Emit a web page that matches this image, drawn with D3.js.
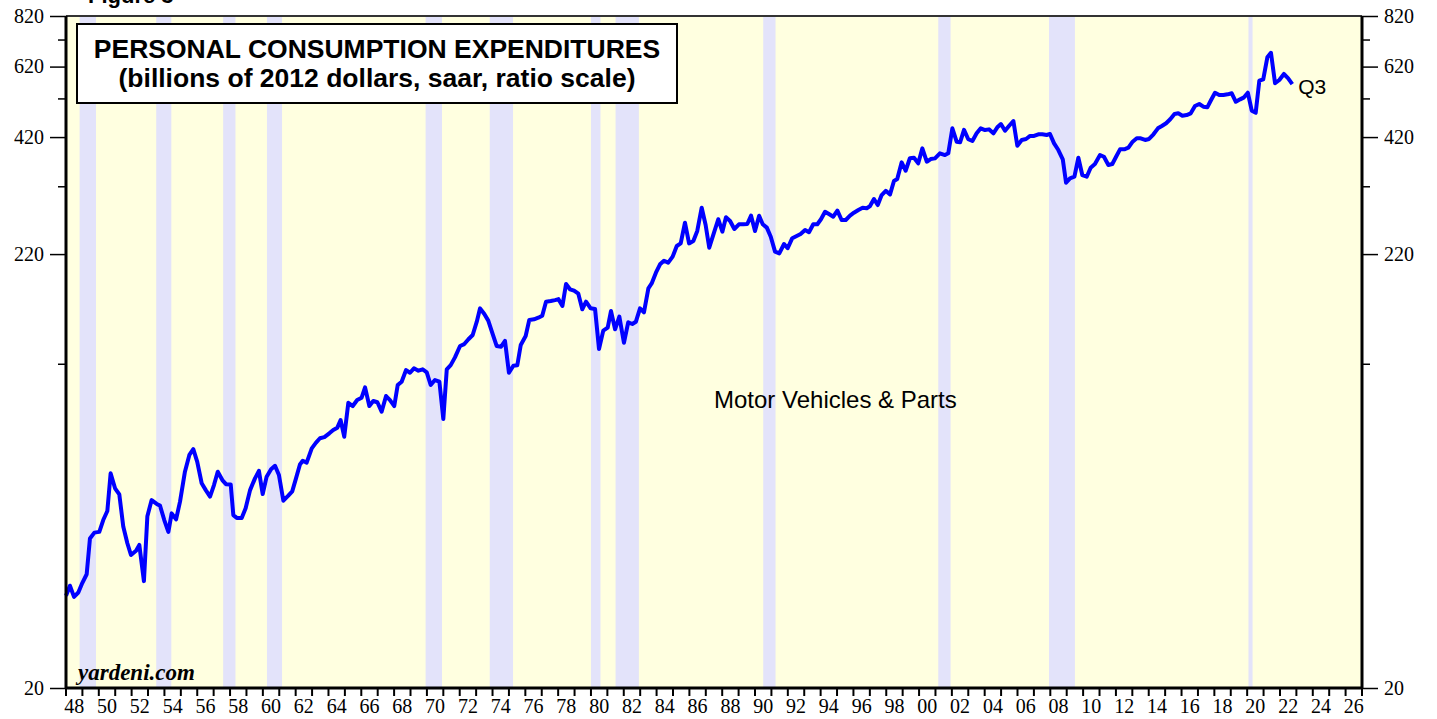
<!DOCTYPE html>
<html>
<head>
<meta charset="utf-8">
<script src="https://cdn.jsdelivr.net/npm/d3@7/dist/d3.min.js"></script>
<style>
  body { margin: 0; background: #fff; }
  svg { display: block; }
</style>
</head>
<body>
<div id="chart"></div>
<script>
// decimal years of each plotted quarter
const dates = [
  1948.00, 1948.24, 1948.49, 1948.75, 1948.96, 1949.26, 1949.46, 1949.73, 1950.03, 1950.27,
  1950.52, 1950.72, 1950.99, 1951.25, 1951.49, 1951.74, 1951.96, 1952.27, 1952.47, 1952.75,
  1952.96, 1953.22, 1953.53, 1953.73, 1953.99, 1954.24, 1954.44, 1954.71, 1954.95, 1955.25,
  1955.52, 1955.76, 1956.00, 1956.27, 1956.52, 1956.78, 1957.02, 1957.25, 1957.53, 1957.75,
  1958.04, 1958.20, 1958.41, 1958.71, 1958.95, 1959.22, 1959.52, 1959.76, 1959.99, 1960.23,
  1960.50, 1960.74, 1960.98, 1961.25, 1961.55, 1961.79, 1962.02, 1962.26, 1962.43, 1962.67,
  1962.98, 1963.24, 1963.48, 1963.75, 1964.05, 1964.29, 1964.54, 1964.74, 1964.96, 1965.21,
  1965.48, 1965.75, 1966.02, 1966.23, 1966.49, 1966.73, 1966.98, 1967.24, 1967.51, 1967.75,
  1968.01, 1968.22, 1968.46, 1968.73, 1968.97, 1969.21, 1969.48, 1969.74, 1969.99, 1970.23,
  1970.49, 1970.76, 1971.00, 1971.21, 1971.45, 1971.71, 1972.02, 1972.28, 1972.53, 1972.79,
  1973.04, 1973.24, 1973.50, 1973.74, 1973.98, 1974.25, 1974.52, 1974.76, 1975.00, 1975.27,
  1975.51, 1975.72, 1976.02, 1976.24, 1976.53, 1976.79, 1977.03, 1977.26, 1977.55, 1977.81,
  1978.02, 1978.26, 1978.48, 1978.72, 1978.97, 1979.23, 1979.47, 1979.70, 1979.98, 1980.25,
  1980.49, 1980.75, 1981.02, 1981.22, 1981.47, 1981.73, 1982.01, 1982.27, 1982.52, 1982.74,
  1982.99, 1983.23, 1983.50, 1983.70, 1983.96, 1984.21, 1984.45, 1984.71, 1984.98, 1985.23,
  1985.47, 1985.73, 1985.98, 1986.24, 1986.48, 1986.75, 1986.99, 1987.21, 1987.50, 1987.76,
  1988.01, 1988.23, 1988.48, 1988.74, 1989.02, 1989.29, 1989.53, 1989.76, 1990.00, 1990.25,
  1990.47, 1990.72, 1990.96, 1991.22, 1991.48, 1991.77, 1991.99, 1992.27, 1992.54, 1992.78,
  1993.05, 1993.29, 1993.55, 1993.80, 1994.02, 1994.27, 1994.53, 1994.77, 1995.02, 1995.28,
  1995.53, 1995.79, 1996.03, 1996.30, 1996.56, 1996.81, 1997.01, 1997.25, 1997.48, 1997.72,
  1997.97, 1998.23, 1998.47, 1998.67, 1998.94, 1999.18, 1999.44, 1999.69, 1999.95, 2000.20,
  2000.47, 2000.71, 2000.97, 2001.27, 2001.58, 2001.78, 2002.03, 2002.29, 2002.50, 2002.74,
  2003.00, 2003.25, 2003.51, 2003.76, 2004.02, 2004.26, 2004.53, 2004.77, 2004.99, 2005.24,
  2005.48, 2005.75, 2005.99, 2006.26, 2006.52, 2006.77, 2007.01, 2007.27, 2007.51, 2007.78,
  2007.98, 2008.23, 2008.49, 2008.76, 2008.96, 2009.20, 2009.47, 2009.71, 2009.95, 2010.22,
  2010.46, 2010.72, 2011.03, 2011.27, 2011.54, 2011.78, 2012.01, 2012.25, 2012.51, 2012.76,
  2013.02, 2013.27, 2013.51, 2013.78, 2014.02, 2014.29, 2014.56, 2014.80, 2015.06, 2015.31,
  2015.57, 2015.80, 2016.05, 2016.31, 2016.56, 2016.82, 2017.08, 2017.33, 2017.57, 2017.80,
  2018.04, 2018.30, 2018.55, 2018.81, 2019.06, 2019.31, 2019.57, 2019.81, 2020.04, 2020.28,
  2020.52, 2020.74, 2020.98, 2021.23, 2021.45, 2021.70, 2021.96, 2022.24, 2022.50, 2022.75
];

// motor vehicles & parts, billions of 2012 dollars, saar
const motorVehicles = [
  33.3, 35.2, 33.1, 33.9, 35.5, 37.5, 45.7, 47.2, 47.4, 50.6,
  53.2, 65.5, 60.3, 58.3, 48.8, 44.5, 41.7, 42.7, 44.1, 36.1,
  51.7, 56.5, 55.3, 54.8, 50.6, 47.4, 52.5, 50.8, 56.0, 66.1,
  72.5, 74.9, 69.8, 62.0, 59.7, 57.6, 61.4, 66.1, 63.1, 61.7,
  61.6, 52.0, 51.2, 51.2, 54.0, 59.7, 63.7, 66.4, 58.4, 64.3,
  67.0, 68.3, 64.9, 56.3, 57.9, 59.3, 63.7, 68.8, 70.2, 69.5,
  75.2, 77.6, 79.5, 80.0, 81.7, 83.2, 84.3, 87.9, 80.2, 96.7,
  95.0, 98.2, 99.5, 105.3, 95.0, 97.7, 97.0, 92.1, 100.4, 98.2,
  95.0, 106.7, 108.7, 115.9, 114.2, 117.0, 115.5, 116.4, 114.4, 106.7,
  109.7, 108.7, 88.4, 116.4, 119.1, 124.3, 132.4, 133.8, 137.4, 140.7,
  151.4, 163.0, 158.0, 152.3, 142.5, 132.4, 131.9, 136.1, 114.2, 118.7,
  119.0, 133.1, 139.9, 152.9, 153.4, 154.8, 156.5, 169.1, 169.7, 170.6,
  171.5, 165.2, 186.5, 181.1, 179.7, 176.7, 162.2, 169.1, 163.0, 162.4,
  130.2, 144.1, 146.5, 160.6, 145.2, 155.7, 134.8, 150.9, 149.5, 151.4,
  163.0, 159.5, 182.1, 187.1, 198.5, 207.9, 212.1, 209.8, 216.9, 230.1,
  233.4, 261.7, 233.4, 236.5, 250.0, 284.3, 258.4, 227.9, 247.6, 266.7,
  249.0, 269.6, 264.2, 252.7, 259.4, 259.4, 259.8, 272.0, 250.0, 272.0,
  259.4, 254.6, 242.2, 223.0, 220.9, 232.6, 227.2, 240.2, 243.2, 245.9,
  251.3, 248.2, 259.4, 259.4, 266.7, 278.0, 274.1, 270.5, 279.8, 265.6,
  265.6, 272.0, 276.5, 280.7, 284.3, 283.4, 286.9, 298.3, 288.5, 304.9,
  312.1, 306.0, 329.4, 333.1, 365.3, 348.7, 373.6, 374.8, 363.3, 394.6,
  366.5, 372.0, 373.4, 383.9, 380.3, 383.9, 440.8, 409.4, 408.0, 437.2,
  414.9, 410.9, 428.8, 440.8, 436.6, 438.3, 428.8, 443.3, 451.4, 435.0,
  446.4, 459.0, 400.4, 413.2, 415.5, 422.6, 422.6, 426.5, 426.5, 424.9,
  427.3, 405.7, 391.0, 371.4, 326.4, 334.4, 337.4, 374.6, 340.5, 337.4,
  354.6, 361.9, 380.3, 376.7, 359.9, 361.9, 376.7, 392.5, 392.5, 396.0,
  409.4, 417.2, 417.2, 413.3, 415.6, 426.5, 440.8, 446.5, 453.3, 463.3,
  477.1, 478.9, 472.6, 474.4, 478.9, 498.7, 504.3, 496.8, 495.1, 515.4,
  536.6, 530.0, 530.0, 531.9, 534.9, 510.5, 517.3, 523.1, 536.6, 485.9,
  480.5, 573.4, 577.9, 652.6, 669.3, 565.4, 575.8, 595.2, 581.2, 562.9
];

// recessions (decimal years)
const recessionStarts = [1948.83, 1953.50, 1957.58, 1960.25, 1969.92, 1973.83, 1980.00, 1981.50, 1990.50, 2001.17, 2007.92, 2020.08];
const recessionEnds   = [1949.83, 1954.42, 1958.33, 1961.17, 1970.92, 1975.25, 1980.58, 1982.92, 1991.25, 2001.92, 2009.50, 2020.33];

const yTicks = d3.range(20, 821, 100);          // 20,120,...,820
const yLabels = [20, 220, 420, 620, 820];
const yearTicks = d3.range(1948, 2028);
const yearLabels = d3.range(1948, 2027, 2);

const titleLines = ['PERSONAL CONSUMPTION EXPENDITURES', '(billions of 2012 dollars, saar, ratio scale)'];

const W = 1437, H = 719;
const margin = { top: 16, right: 75, bottom: 31, left: 66 };
const innerW = W - margin.left - margin.right;
const innerH = H - margin.top - margin.bottom;

const svg = d3.select('#chart').append('svg')
  .attr('width', W)
  .attr('height', H);

const x = d3.scaleLinear().domain([1948, 2027]).range([margin.left, margin.left + innerW]);
const y = d3.scaleLog().domain([20, 820]).range([margin.top + innerH, margin.top]);

// plot background
svg.append('rect')
  .attr('x', margin.left).attr('y', margin.top)
  .attr('width', innerW).attr('height', innerH)
  .attr('fill', '#ffffe0');

// recession bands
svg.selectAll('.rec')
  .data(recessionStarts.map((s, i) => [s, recessionEnds[i]]))
  .enter().append('rect')
  .attr('class', 'rec')
  .attr('x', d => x(d[0]))
  .attr('width', d => x(d[1]) - x(d[0]))
  .attr('y', margin.top)
  .attr('height', innerH)
  .attr('fill', '#e3e3fa');

// series
const line = d3.line()
  .x((d, i) => x(dates[i]))
  .y(d => y(d));

svg.append('path')
  .datum(motorVehicles)
  .attr('d', line)
  .attr('fill', 'none')
  .attr('stroke', '#0000ff')
  .attr('stroke-width', 4)
  .attr('stroke-linejoin', 'round');

// frame
svg.append('line')
  .attr('x1', margin.left).attr('x2', margin.left + innerW)
  .attr('y1', margin.top).attr('y2', margin.top)
  .attr('stroke', '#333').attr('stroke-width', 2);
svg.append('line')
  .attr('x1', margin.left - 1).attr('x2', margin.left + innerW + 1)
  .attr('y1', margin.top + innerH).attr('y2', margin.top + innerH)
  .attr('stroke', '#000').attr('stroke-width', 3);

// y axes (left and right)
const yAxisL = d3.axisLeft(y)
  .tickValues(yTicks)
  .tickSize(16)
  .tickPadding(6)
  .tickFormat(d => yLabels.includes(d) ? d : '');
const yAxisR = d3.axisRight(y)
  .tickValues(yTicks)
  .tickSize(16)
  .tickPadding(6)
  .tickFormat(d => yLabels.includes(d) ? d : '');

function styleY(g, side) {
  g.select('.domain')
    .attr('d', `M0,${margin.top}V${margin.top + innerH}`)
    .attr('stroke', '#000').attr('stroke-width', 3);
  g.selectAll('.tick line').attr('stroke', '#000').attr('stroke-width', 1.5);
  g.selectAll('.tick text')
    .attr('font-family', '"Liberation Serif", "Times New Roman", serif')
    .attr('font-size', 20)
    .attr('fill', '#000');
  // minor ticks are half length
  g.selectAll('.tick')
    .filter(d => !yLabels.includes(d))
    .select('line')
    .attr('x2', side * 8);
}

svg.append('g')
  .attr('transform', `translate(${margin.left},0)`)
  .call(yAxisL)
  .call(g => styleY(g, -1));

svg.append('g')
  .attr('transform', `translate(${margin.left + innerW},0)`)
  .call(yAxisR)
  .call(g => styleY(g, 1));

// x axis: tick each year, label centered in even years
const xAxis = svg.append('g')
  .attr('transform', `translate(0,${margin.top + innerH})`);
xAxis.selectAll('line.yt')
  .data(yearTicks)
  .enter().append('line')
  .attr('class', 'yt')
  .attr('x1', d => x(d)).attr('x2', d => x(d))
  .attr('y1', 0).attr('y2', 8)
  .attr('stroke', '#000').attr('stroke-width', 2);
xAxis.selectAll('text')
  .data(yearLabels)
  .enter().append('text')
  .attr('x', d => x(d + 0.5))
  .attr('y', 25)
  .attr('text-anchor', 'middle')
  .attr('font-family', '"Liberation Serif", "Times New Roman", serif')
  .attr('font-size', 20)
  .text(d => d3.format('02')(d % 100));

// title box
svg.append('rect')
  .attr('x', 77).attr('y', 24)
  .attr('width', 600).attr('height', 79)
  .attr('fill', '#fff')
  .attr('stroke', '#000').attr('stroke-width', 2);
svg.selectAll('.title')
  .data(titleLines)
  .enter().append('text')
  .attr('class', 'title')
  .attr('x', 377)
  .attr('y', (d, i) => 58 + i * 29)
  .attr('text-anchor', 'middle')
  .attr('font-family', '"Liberation Sans", Arial, sans-serif')
  .attr('font-weight', 'bold')
  .attr('font-size', 26.5)
  .text(d => d);

// figure caption peeking above the frame
svg.append('text')
  .attr('x', 88).attr('y', 3)
  .attr('font-family', '"Liberation Sans", Arial, sans-serif')
  .attr('font-weight', 'bold')
  .attr('font-size', 22)
  .text('Figure 3');

// labels
svg.append('text')
  .attr('x', 714).attr('y', 408)
  .attr('font-family', '"Liberation Sans", Arial, sans-serif')
  .attr('font-size', 24)
  .text('Motor Vehicles & Parts');

svg.append('text')
  .attr('x', x(dates[dates.length - 1]) + 6)
  .attr('y', y(motorVehicles[motorVehicles.length - 1]) + 10)
  .attr('font-family', '"Liberation Sans", Arial, sans-serif')
  .attr('font-size', 21)
  .text('Q3');

svg.append('text')
  .attr('x', 78).attr('y', 680)
  .attr('font-family', '"Liberation Serif", "Times New Roman", serif')
  .attr('font-weight', 'bold')
  .attr('font-style', 'italic')
  .attr('font-size', 23)
  .text('yardeni.com');
</script>
</body>
</html>
